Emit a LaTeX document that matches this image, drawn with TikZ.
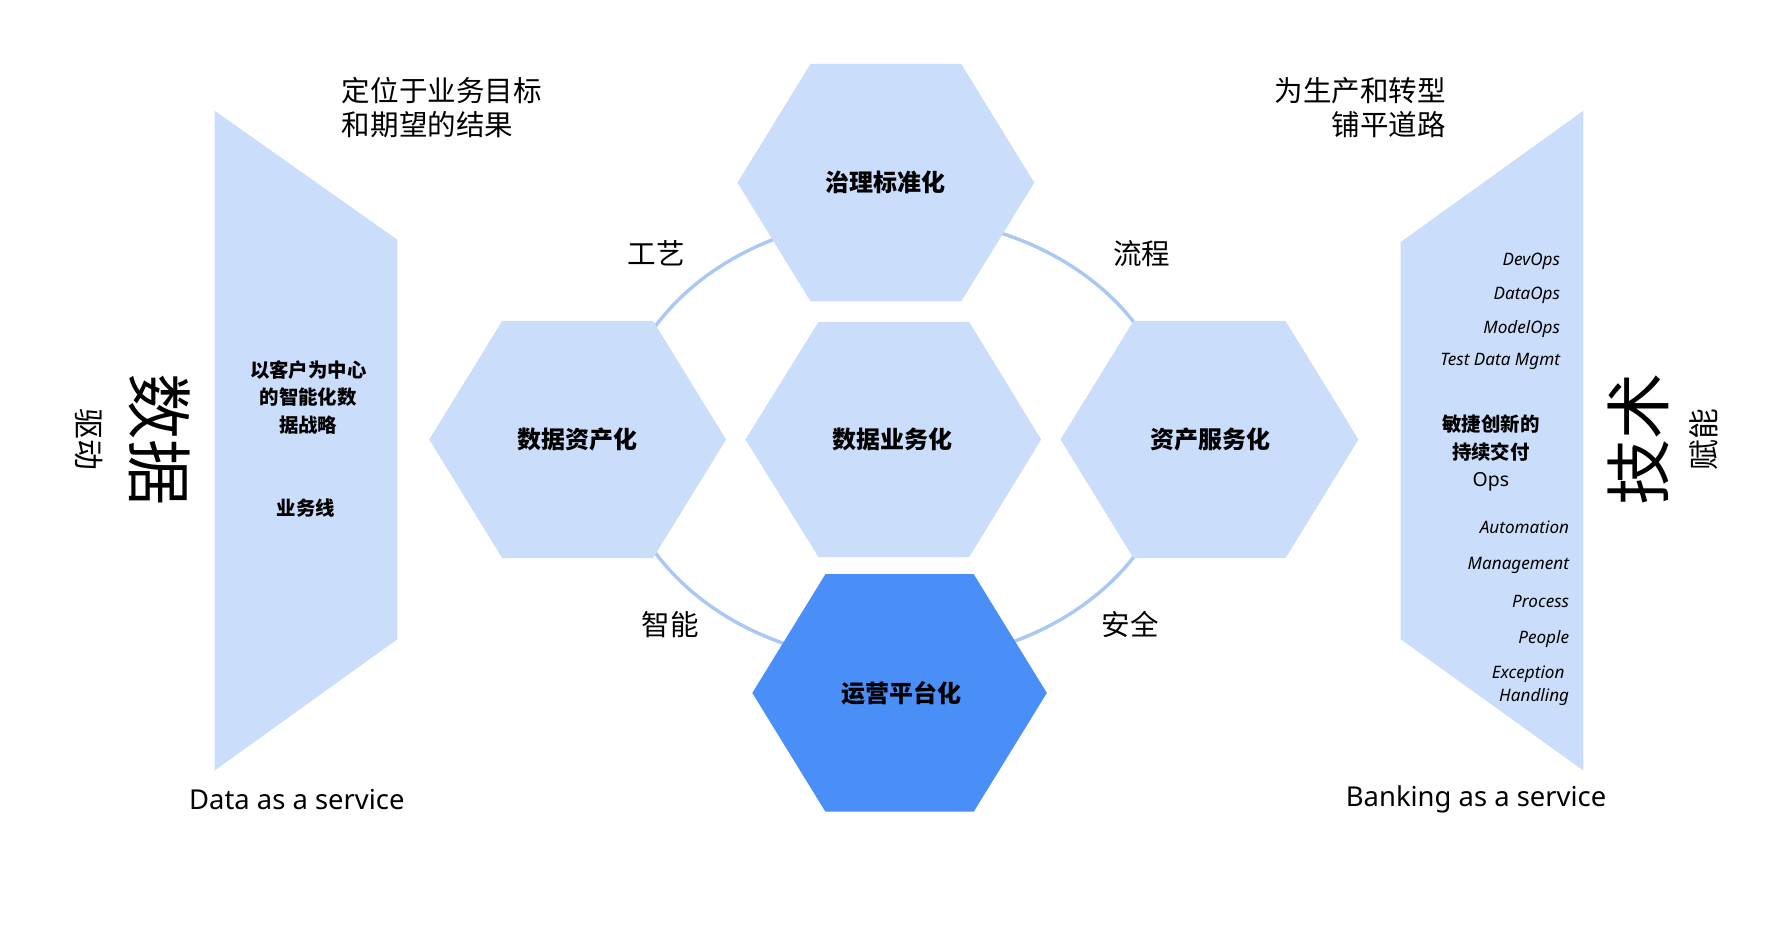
\documentclass[tikz,border=0pt]{standalone}
\usepackage{fontspec}
\setmainfont{Noto Sans}
\newfontfamily\cjk{Noto Sans CJK SC}
\begin{document}
\begin{tikzpicture}[x=1pt,y=-1pt,
  panel/.style={fill=lightb,draw=none},
  hexlab/.style={font=\cjk\bfseries\fontsize{21}{24}\selectfont},
  lbl/.style={font=\cjk\fontsize{25}{30}\selectfont},
  ital/.style={font=\itshape\fontsize{15}{17}\selectfont,anchor=east},
  bold/.style={font=\cjk\bfseries\fontsize{17}{24}\selectfont,align=center}]
\definecolor{lightb}{HTML}{CADDFB}
\definecolor{darkb}{HTML}{4A8FF7}
\definecolor{ring}{HTML}{A9C8F6}
\useasboundingbox (0,0) rectangle (1568,811);
\newcommand{\myhex}[4]{\fill[#4] (#2-130,#3) -- (#2-66,#3-104) -- (#2+66,#3-104) -- (#2+130,#3) -- (#2+66,#3+104) -- (#2-66,#3+104) -- cycle; \node[hexlab,#1] at (#2,#3) {};}
% panels
\fill[panel] (188,97) -- (348,210) -- (348,560) -- (188,675) -- cycle;
\fill[panel] (1387,97) -- (1387,675) -- (1227,560) -- (1227,212) -- cycle;
% ring
\draw[ring,line width=3pt] (785,385) ellipse [x radius=245, y radius=195];
% hexagons
\fill[lightb] (646,160) -- (710,56) -- (842,56) -- (906,160) -- (842,264) -- (710,264) -- cycle;
\fill[lightb] (376,385) -- (440,281) -- (572,281) -- (636,385) -- (572,489) -- (440,489) -- cycle;
\fill[lightb] (653,385) -- (717,282) -- (849,282) -- (912,385) -- (849,488) -- (717,488) -- cycle;
\fill[lightb] (929,385) -- (993,281) -- (1126,281) -- (1190,385) -- (1126,489) -- (993,489) -- cycle;
\fill[darkb] (659,607) -- (723,503) -- (853,503) -- (917,607) -- (853,711) -- (723,711) -- cycle;
\node[hexlab] (h1) at (776,160) {治理标准化};
\node[hexlab] (h2) at (506,385) {数据资产化};
\node[hexlab] (h3) at (782,385) {数据业务化};
\node[hexlab] (h4) at (1060,385) {资产服务化};
\node[hexlab] (h5) at (790,607) {运营平台化};
% ring labels
\node[lbl] (l1) at (575,222) {工艺};
\node[lbl] (l2) at (1000,222) {流程};
\node[lbl] (l3) at (587,547) {智能};
\node[lbl] (l4) at (990,547) {安全};
% titles
\node[lbl,anchor=west,align=left] (t1) at (296,94) {定位于业务目标\\和期望的结果};
\node[lbl,anchor=east,align=right] (t2) at (1270,94) {为生产和转型\\铺平道路};
% left panel
\node[bold] (p1) at (270,348) {以客户为中心\\的智能化数\\据战略};
\node[bold] (p2) at (268,445) {业务线};
\node[font=\cjk\fontsize{58}{60}\selectfont,rotate=-90] (s1) at (140,385) {数据};
\node[font=\cjk\fontsize{27}{30}\selectfont,rotate=-90] (s2) at (78,385) {驱动};
% right panel
\node[ital] (r1) at (1370,229) {DevOps};
\node[ital] (r2) at (1370,259) {DataOps};
\node[ital] (r3) at (1370,288) {ModelOps};
\node[ital] (r4) at (1370,317) {Test Data Mgmt};
\node[bold] (r5) at (1306,397) {敏捷创新的\\持续交付\\{\sffamily\bfseries\fontspec{Noto Sans}Ops}};
\node[ital] (r6) at (1378,462) {Automation};
\node[ital] (r7) at (1378,495) {Management};
\node[ital] (r8) at (1378,527) {Process};
\node[ital] (r9) at (1378,560) {People};
\node[ital] (r10) at (1374,591) {Exception};
\node[ital] (r11) at (1378,611) {Handling};
\node[font=\cjk\fontsize{58}{60}\selectfont,rotate=90] (s3) at (1435,385) {技术};
\node[font=\cjk\fontsize{27}{30}\selectfont,rotate=90] (s4) at (1492,385) {赋能};
% bottom
\node[font=\fontsize{24}{28}\selectfont] (b1) at (260,700) {Data as a service};
\node[font=\fontsize{24}{28}\selectfont] (b2) at (1293,700) {Banking as a service};
\end{tikzpicture}
\end{document}
